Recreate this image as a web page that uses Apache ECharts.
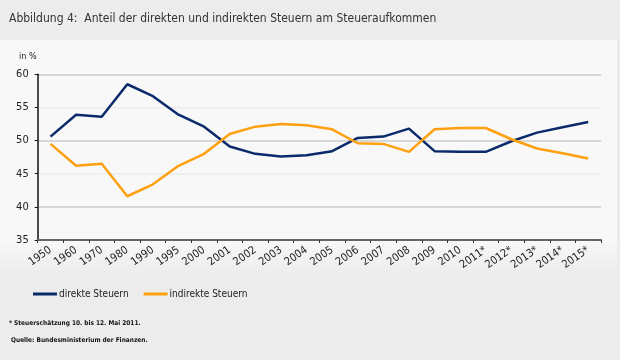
<!DOCTYPE html>
<html><head><meta charset="utf-8">
<script src="https://cdn.jsdelivr.net/npm/echarts@6/dist/echarts.min.js"></script>
<style>html,body{margin:0;padding:0;background:#ececec}#c{width:620px;height:360px}</style>
</head><body><div id="c"></div>
<script>
const categories = ['1950','1960','1970','1980','1990','1995','2000','2001','2002','2003','2004','2005','2006','2007','2008','2009','2010','2011*','2012*','2013*','2014*','2015*'];
const direkte = [50.6,53.9,53.6,58.5,56.7,53.9,52.1,49.1,48.0,47.6,47.8,48.4,50.4,50.6,51.8,48.4,48.3,48.3,49.9,51.2,52.0,52.8];
const indirekte = [49.5,46.2,46.5,41.6,43.4,46.2,48.0,51.0,52.1,52.5,52.3,51.7,49.6,49.5,48.3,51.7,51.9,51.9,50.2,48.8,48.1,47.3];
const yTicks = {min:35, max:60, interval:5};

const F = '"DejaVu Sans Condensed","Liberation Sans Narrow",sans-serif';
const chart = echarts.init(document.getElementById('c'), null, {renderer:'canvas'});
chart.setOption({
  backgroundColor:'#ececec',
  animation:false,
  graphic:[
    {type:'rect', shape:{x:0,y:40,width:617,height:235}, z:-10,
     style:{fill:{type:'linear',x:0,y:0,x2:0,y2:1,colorStops:[{offset:0,color:'#f8f8f8'},{offset:0.85,color:'#f8f8f8'},{offset:1,color:'#ececec'}]}}},
    {type:'text', left:9, top:13, style:{text:'Abbildung 4:  Anteil der direkten und indirekten Steuern am Steueraufkommen', font:'12px '+F, fill:'#333'}},
    {type:'text', left:19, top:52, style:{text:'in %', font:'9px '+F, fill:'#222'}},
    {type:'text', left:9, top:320, style:{text:'* Steuerschätzung 10. bis 12. Mai 2011.', font:'bold 6.5px '+F, fill:'#111'}},
    {type:'text', left:11, top:337, style:{text:'Quelle: Bundesministerium der Finanzen.', font:'bold 6.5px '+F, fill:'#111'}}
  ],
  grid:{left:37.7, right:19, top:74.3, bottom:120, containLabel:false},
  legend:{left:28, top:284, itemWidth:24, itemHeight:3, itemGap:15, icon:'rect',
    textStyle:{fontFamily:F, fontSize:10, color:'#222', padding:[0,0,0,-3]},
    data:['direkte Steuern','indirekte Steuern']},
  xAxis:{type:'category', data:categories, boundaryGap:true,
    axisLine:{lineStyle:{color:'#666', width:2}},
    axisTick:{show:true, length:3, lineStyle:{color:'#333'}},
    axisLabel:{rotate:35, fontFamily:F, fontSize:11, color:'#222', margin:9, interval:0}},
  yAxis:{type:'value', min:yTicks.min, max:yTicks.max, interval:yTicks.interval,
    axisLine:{show:true, lineStyle:{color:'#111', width:1.5}},
    axisTick:{show:true, length:3, inside:false, lineStyle:{color:'#111'}},
    axisLabel:{fontFamily:F, fontSize:11, color:'#222', margin:9},
    splitLine:{show:true, lineStyle:{color:['#cccccc','#cccccc','#ececec','#cccccc','#ececec','#cccccc'], width:1.5}}},
  series:[
    {name:'direkte Steuern', type:'line', data:direkte, symbol:'none', lineStyle:{color:'#0a2a6b', width:2.5}, itemStyle:{color:'#0a2a6b'}},
    {name:'indirekte Steuern', type:'line', data:indirekte, symbol:'none', lineStyle:{color:'#ffa010', width:2.5}, itemStyle:{color:'#ffa010'}}
  ]
});
</script></body></html>
